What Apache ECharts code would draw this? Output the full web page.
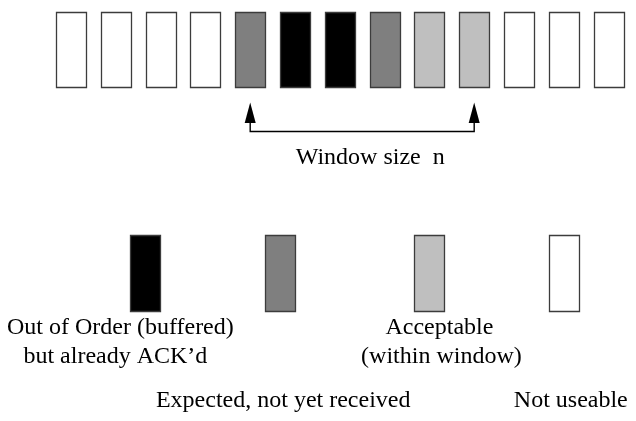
<!DOCTYPE html>
<html>
<head>
<meta charset="utf-8">
<script src="https://cdn.jsdelivr.net/npm/echarts@6/dist/echarts.min.js"></script>
<style>
html,body{margin:0;padding:0;background:#fff;}
#main{width:636px;height:421px;}
</style>
</head>
<body>
<div id="main"></div>
<script>
// ---- data ----
// state of each sequence-number slot in the receive buffer (left to right)
var slotStates = ['unusable','unusable','unusable','unusable','expected','ooo','ooo','expected','acceptable','acceptable','unusable','unusable','unusable'];
// sliding window: first slot and size n (slots)
var windowStart = 4;
var windowSize = 6;
var windowLabel = 'Window size  n';
// legend entries (key order as drawn left to right)
var legendStates = ['ooo','expected','acceptable','unusable'];
var legendLabels = [
  ['Out of Order (buffered)', ' but already ACK\u2019d'],
  ['Expected, not yet received'],
  ['Acceptable', '(within window)'],
  ['Not useable']
];

// ---- styles / layout ----
var fillByState = {ooo:'#000000', expected:'#7f7f7f', acceptable:'#bfbfbf', unusable:'#ffffff'};
var FONT = "'Liberation Serif','Times New Roman',serif";
var BOX_W = 30, BOX_H = 75;
var TOP_Y = 12, LEG_Y = 235;
var legendSlotPos = [1.66, 4.67, 8.0, 11.0];
var legendTextLayout = [ // dx from box centre, first line y, per-line extra x
  {dx:-25, y:328, aligns:[0, -8]},
  {dx:3, y:401, aligns:[0]},
  {dx:10, y:328, aligns:[0, 2]},
  {dx:7, y:401, aligns:[0]}
];

var chart = echarts.init(document.getElementById('main'), null, {renderer:'canvas'});

var boxData = slotStates.map(function(s, i){ return [i]; });
var legData = legendStates.map(function(s, i){ return [legendSlotPos[i]]; });

var option = {
  animation:false,
  backgroundColor:'#ffffff',
  grid:{left:0, right:0, top:0, bottom:0},
  xAxis:{type:'value', min:-1.585, max:12.612, show:false},
  yAxis:{type:'value', min:0, max:1, show:false},
  series:[
    {
      type:'custom', name:'slots', data: boxData,
      renderItem: function(params, api){
        var cx = api.coord([api.value(0), 0])[0];
        var st = slotStates[params.dataIndex];
        return {
          type:'rect',
          shape:{x: Math.round(cx - BOX_W/2) + 0.5, y: TOP_Y + 0.5, width: BOX_W, height: BOX_H},
          style:{fill: fillByState[st], stroke:'#3c3c3c', lineWidth:1.3}
        };
      }
    },
    {
      type:'custom', name:'window', data:[[windowStart, windowStart + windowSize - 1]],
      renderItem: function(params, api){
        var x1 = api.coord([api.value(0), 0])[0];
        var x2 = api.coord([api.value(1), 0])[0];
        var yLine = 131.5, yBase = 123, yTip = 102.5, hw = 5.5;
        var lineStyle = {stroke:'#000', lineWidth:1.4, fill:null};
        return {type:'group', children:[
          {type:'polyline', shape:{points:[[x1, yBase],[x1, yLine],[x2, yLine],[x2, yBase]]}, style:lineStyle},
          {type:'polygon', shape:{points:[[x1-hw, yBase],[x1, yTip],[x1+hw, yBase]]}, style:{fill:'#000'}},
          {type:'polygon', shape:{points:[[x2-hw, yBase],[x2, yTip],[x2+hw, yBase]]}, style:{fill:'#000'}},
          {type:'text', style:{text: windowLabel, x:(x1+x2)/2 + 8, y:158, align:'center', verticalAlign:'middle',
            font:'24px ' + FONT, fill:'#000'}}
        ]};
      }
    },
    {
      type:'custom', name:'legend', data: legData,
      renderItem: function(params, api){
        var cx = api.coord([api.value(0), 0])[0];
        var idx = params.dataIndex;
        var st = legendStates[idx];
        var lay = legendTextLayout[idx];
        var children = [{
          type:'rect',
          shape:{x: Math.round(cx - BOX_W/2) + 0.5, y: LEG_Y + 0.5, width: BOX_W, height: BOX_H + 1},
          style:{fill: fillByState[st], stroke:'#3c3c3c', lineWidth:1.3}
        }];
        legendLabels[idx].forEach(function(line, k){
          children.push({type:'text', style:{text: line, x: cx + lay.dx + lay.aligns[k], y: lay.y + k*29,
            align:'center', verticalAlign:'middle', font:'24px ' + FONT, fill:'#000'}});
        });
        return {type:'group', children: children};
      }
    }
  ]
};
chart.setOption(option);
</script>
</body>
</html>
